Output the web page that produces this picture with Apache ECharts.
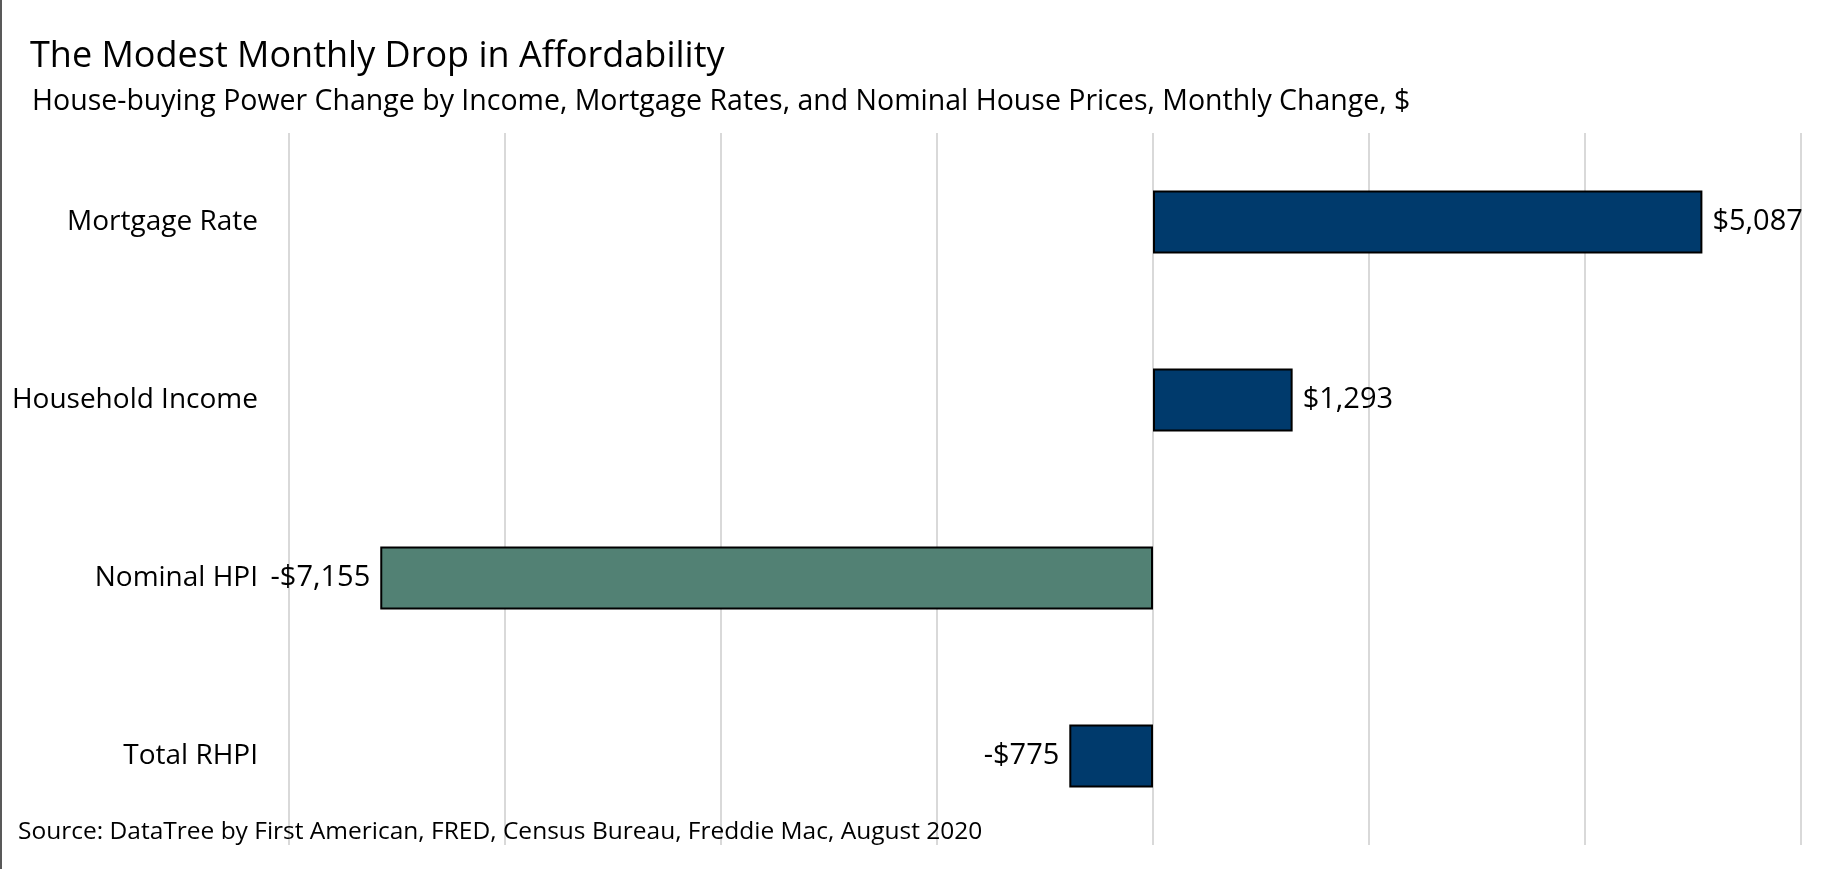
<!DOCTYPE html>
<html>
<head>
<meta charset="utf-8">
<script src="https://cdn.jsdelivr.net/npm/echarts@6/dist/echarts.min.js"></script>
<style>
html,body{margin:0;padding:0;background:#fff;}
#chart{width:1824px;height:869px;}
</style>
</head>
<body>
<div id="chart"></div>
<script>
const categories = ['Mortgage Rate', 'Household Income', 'Nominal HPI', 'Total RHPI'];
const values = [5087, 1293, -7155, -775];
const barColors = ['#003a6c', '#003a6c', '#528174', '#003a6c'];
const axisMin = -8000, axisMax = 6000, axisStep = 2000;

const fmt = v => (v < 0 ? '-$' : '$') + Math.abs(v).toLocaleString('en-US');

const chart = echarts.init(document.getElementById('chart'));
chart.setOption({
  backgroundColor: '#fff',
  animation: false,
  title: [
    { text: 'The Modest Monthly Drop in Affordability', left: 25, top: 30,
      textStyle: { fontFamily: 'Open Sans', fontSize: 36, fontWeight: 'normal', color: '#000', lineHeight: 44 } },
    { text: 'House-buying Power Change by Income, Mortgage Rates, and Nominal House Prices, Monthly Change, $', left: 27, top: 80,
      textStyle: { fontFamily: 'Open Sans', fontSize: 28.5, fontWeight: 'normal', color: '#000', lineHeight: 34 } },
    { text: 'Source: DataTree by First American, FRED, Census Bureau, Freddie Mac, August 2020', left: 13, top: 812,
      textStyle: { fontFamily: 'Open Sans', fontSize: 24.5, fontWeight: 'normal', color: '#000', lineHeight: 30 } }
  ],
  graphic: [
    { type: 'line', shape: { x1: 1, y1: 0, x2: 1, y2: 869 }, style: { stroke: '#222', lineWidth: 1.5 }, silent: true }
  ],
  grid: { left: 289, right: 23, top: 133, bottom: 24, containLabel: false },
  xAxis: {
    type: 'value', min: axisMin, max: axisMax, interval: axisStep,
    axisLabel: { show: false }, axisTick: { show: false }, axisLine: { show: false },
    splitLine: { show: true, lineStyle: { color: '#d9d9d9', width: 2 } }
  },
  yAxis: {
    type: 'category', data: categories, inverse: true,
    axisLine: { show: false }, axisTick: { show: false },
    axisLabel: { fontFamily: 'Open Sans', fontSize: 28, color: '#000', margin: 31 }
  },
  series: [{
    type: 'bar',
    barWidth: 63,
    data: values.map((v, i) => ({
      value: v,
      itemStyle: { color: barColors[i], borderColor: '#000', borderWidth: 2 },
      label: { show: true, position: v < 0 ? 'left' : 'right', distance: 10,
        formatter: fmt(v), fontFamily: 'Open Sans', fontSize: 29, color: '#000' }
    }))
  }]
});
</script>
</body>
</html>
